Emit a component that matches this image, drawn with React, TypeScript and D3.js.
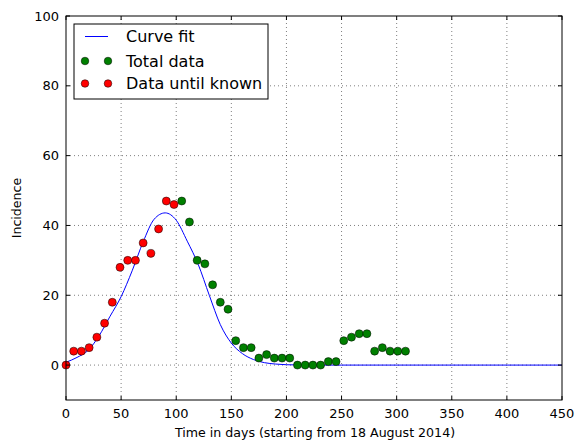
import React from "react";
import * as d3 from "d3";

// Weekly observations (day, incidence)
const knownDays = [0, 7, 14, 21, 28, 35, 42, 49, 56, 63, 70, 77, 84, 91, 98];
const knownValues = [0, 4, 4, 5, 8, 12, 18, 28, 30, 30, 35, 32, 39, 47, 46];

const totalDays = [
  105, 112, 119, 126, 133, 140, 147, 154, 161, 168, 175, 182, 189, 196, 203,
  210, 217, 224, 231, 238, 245, 252, 259, 266, 273, 280, 287, 294, 301, 308,
];
const totalValues = [
  47, 41, 30, 29, 23, 18, 16, 7, 5, 5, 2, 3, 2, 2, 2,
  0, 0, 0, 0, 1, 1, 7, 8, 9, 9, 4, 5, 4, 4, 4,
];

// Fitted curve
const fitDays = [
  0, 10, 20, 30, 40, 50, 60, 70, 80, 90, 100, 110, 120, 130, 140, 150, 160,
  170, 180, 190, 200, 220, 250, 450,
];
const fitValues = [
  0.8, 2.2, 4.2, 8.4, 14, 19.6, 27, 35.3, 41.8, 43.6, 41.5, 35.5, 28.8, 20,
  11.6, 6.3, 3.3, 1.6, 0.7, 0.3, 0.1, 0, 0, 0,
];

const xTicks = [0, 50, 100, 150, 200, 250, 300, 350, 400, 450];
const yTicks = [0, 20, 40, 60, 80, 100];

const width = 576;
const height = 445;
const marginLeft = 66;
const marginRight = 14;
const marginTop = 16;
const marginBottom = 45;

const font = "'DejaVu Sans', sans-serif";

export default function App() {
  const x = d3
    .scaleLinear()
    .domain([0, 450])
    .range([marginLeft, width - marginRight]);
  const y = d3
    .scaleLinear()
    .domain([-10, 100])
    .range([height - marginBottom, marginTop]);

  const fit = d3
    .line<number>()
    .x((d) => x(d))
    .y((d, i) => y(fitValues[i]))
    .curve(d3.curveMonotoneX);

  const x0 = x(0);
  const x1 = x(450);
  const y0 = y(-10);
  const y1 = y(100);

  return (
    <svg
      width={width}
      height={height}
      style={{ position: "fixed", left: 0, top: 0, background: "#fff" }}
      fontFamily={font}
    >
      <rect x={0} y={0} width={width} height={height} fill="#fff" />

      {/* grid */}
      <g stroke="#000" strokeOpacity={0.5} strokeWidth={1} strokeDasharray="1,3">
        {xTicks.slice(1, -1).map((t) => (
          <line key={"gx" + t} x1={x(t)} x2={x(t)} y1={y0} y2={y1} />
        ))}
        {yTicks.slice(0, -1).map((t) => (
          <line key={"gy" + t} x1={x0} x2={x1} y1={y(t)} y2={y(t)} />
        ))}
      </g>

      {/* curve fit */}
      <path d={fit(fitDays) || ""} fill="none" stroke="#0000ff" strokeWidth={1} />

      {/* points */}
      <g stroke="#000" strokeWidth={0.5}>
        {totalDays.map((d, i) => (
          <circle key={"t" + i} cx={x(d)} cy={y(totalValues[i])} r={4} fill="#008000" />
        ))}
        {knownDays.map((d, i) => (
          <circle key={"k" + i} cx={x(d)} cy={y(knownValues[i])} r={4} fill="#ff0000" />
        ))}
      </g>

      {/* ticks (inward, all four sides) */}
      <g stroke="#000" strokeWidth={1}>
        {xTicks.map((t) => (
          <g key={"tx" + t}>
            <line x1={x(t)} x2={x(t)} y1={y0} y2={y0 - 4} />
            <line x1={x(t)} x2={x(t)} y1={y1} y2={y1 + 4} />
          </g>
        ))}
        {yTicks.map((t) => (
          <g key={"ty" + t}>
            <line x1={x0} x2={x0 + 4} y1={y(t)} y2={y(t)} />
            <line x1={x1} x2={x1 - 4} y1={y(t)} y2={y(t)} />
          </g>
        ))}
      </g>

      {/* frame */}
      <rect
        x={x0}
        y={y1}
        width={x1 - x0}
        height={y0 - y1}
        fill="none"
        stroke="#000"
        strokeWidth={1}
      />

      {/* tick labels */}
      <g fontSize={13} fill="#000">
        {xTicks.map((t) => (
          <text key={"lx" + t} x={x(t)} y={y0 + 18} textAnchor="middle">
            {t}
          </text>
        ))}
        {yTicks.map((t) => (
          <text key={"ly" + t} x={x0 - 7} y={y(t) + 4.5} textAnchor="end">
            {t}
          </text>
        ))}
      </g>

      {/* axis labels */}
      <text x={(x0 + x1) / 2 + 1} y={y0 + 37} textAnchor="middle" fontSize={12.6}>
        Time in days (starting from 18 August 2014)
      </text>
      <text
        transform={`translate(${21},${(y0 + y1) / 2}) rotate(-90)`}
        textAnchor="middle"
        fontSize={12.6}
      >
        Incidence
      </text>

      {/* legend */}
      <g>
        <rect x={74} y={24} width={194} height={75} fill="#fff" stroke="#000" strokeWidth={1} />
        <line x1={85} x2={108} y1={36.5} y2={36.5} stroke="#0000ff" strokeWidth={1} />
        <circle cx={85} cy={61} r={3.8} fill="#008000" stroke="#000" strokeWidth={0.5} />
        <circle cx={108} cy={61} r={3.8} fill="#008000" stroke="#000" strokeWidth={0.5} />
        <circle cx={85} cy={83.5} r={3.8} fill="#ff0000" stroke="#000" strokeWidth={0.5} />
        <circle cx={108} cy={83.5} r={3.8} fill="#ff0000" stroke="#000" strokeWidth={0.5} />
        <g fontSize={16} fill="#000">
          <text x={126} y={42}>Curve fit</text>
          <text x={126} y={66.5}>Total data</text>
          <text x={126} y={89}>Data until known</text>
        </g>
      </g>
    </svg>
  );
}
